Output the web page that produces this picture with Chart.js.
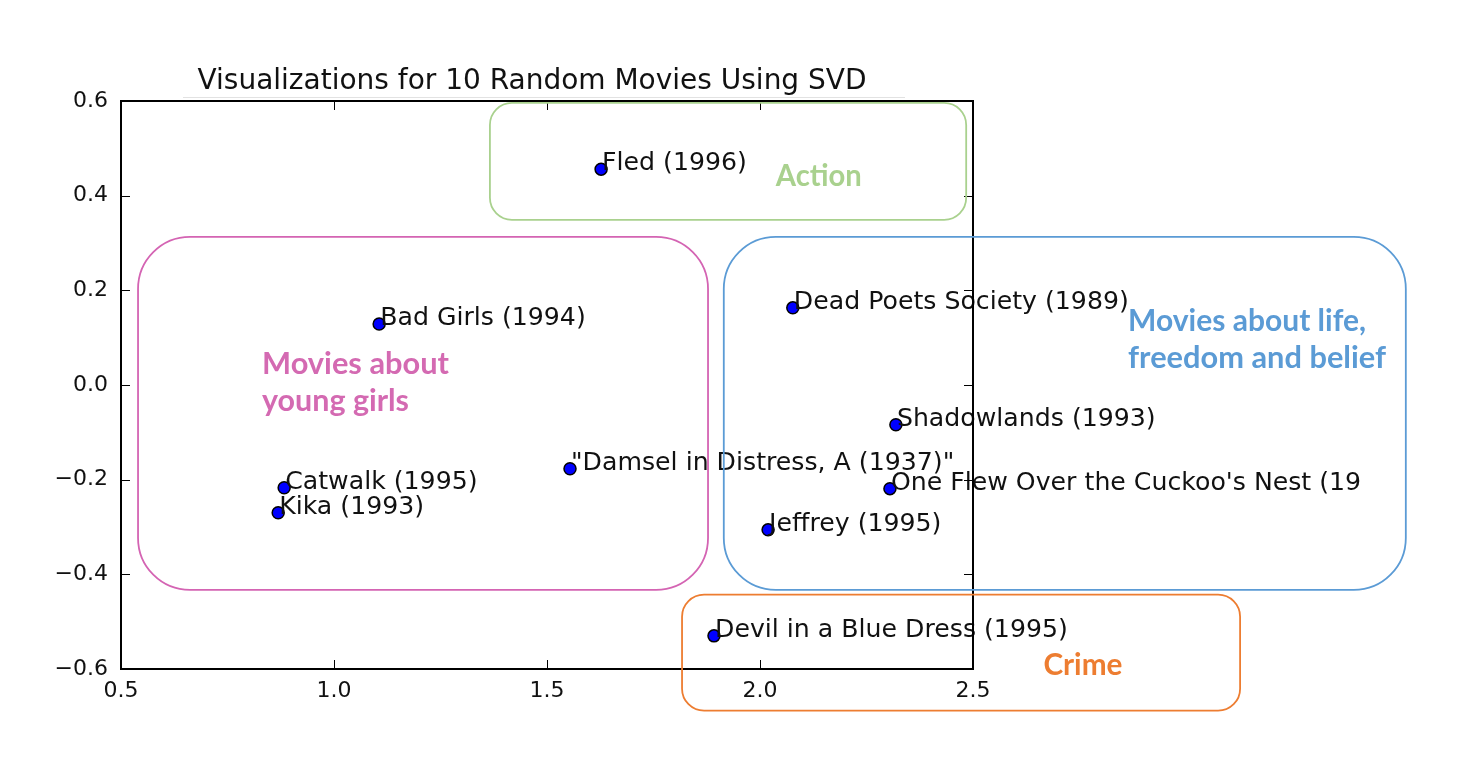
<!DOCTYPE html>
<html>
<head>
<meta charset="utf-8">
<script src="https://cdn.jsdelivr.net/npm/chart.js@4/dist/chart.umd.min.js"></script>
<style>
  html, body { margin: 0; padding: 0; background: #fff; }
  #wrap { width: 1480px; height: 776px; }
</style>
</head>
<body>
<div id="wrap"><canvas id="c" width="1480" height="776"></canvas></div>
<script>
// ---- data ----
const movieTitles = [
  "Fled (1996)",
  "Bad Girls (1994)",
  "Catwalk (1995)",
  "Kika (1993)",
  "\"Damsel in Distress, A (1937)\"",
  "Dead Poets Society (1989)",
  "Shadowlands (1993)",
  "One Flew Over the Cuckoo's Nest (19",
  "Jeffrey (1995)",
  "Devil in a Blue Dress (1995)"
];
const xValues = [1.627, 1.106, 0.883, 0.869, 1.554, 2.077, 2.319, 2.305, 2.019, 1.892];
const yValues = [0.456, 0.129, -0.217, -0.270, -0.177, 0.163, -0.084, -0.219, -0.306, -0.530];
const xTickValues = [0.5, 1.0, 1.5, 2.0, 2.5];
const yTickValues = [-0.6, -0.4, -0.2, 0.0, 0.2, 0.4, 0.6];
const chartTitle = "Visualizations for 10 Random Movies Using SVD";

// group callouts (annotation boxes, in data units)
const groupNames = ["Action", "Movies about young girls", "Movies about life, freedom and belief", "Crime"];
const groupLines = [["Action"], ["Movies about", "young girls"], ["Movies about life,", "freedom and belief"], ["Crime"]];
const groupX0 = [1.366, 0.540, 1.915, 1.817];
const groupX1 = [2.484, 1.878, 3.516, 3.127];
const groupY0 = [0.596, 0.313, 0.313, -0.443];
const groupY1 = [0.349, -0.433, -0.433, -0.688];

// ---- styles ----
const groupColors = ['#a9d18e', '#d464b3', '#5b9bd5', '#ed7d31'];
const groupTextColors = ['#a9d18e', '#d46ab2', '#5b9bd5', '#ed7d31'];
const groupRadius = [22, 52, 52, 22];
// text anchors in data units (left/center x, baseline y) + target widths px
const groupTextX = [2.138, 0.831, 2.864, 2.758];
const groupTextY = [[0.4205], [0.0234, -0.0547], [0.1143, 0.0361], [-0.6122]];
const groupTextAlign = ['center', 'left', 'left', 'center'];
const groupTextWidths = [[86], [187, 147], [238, 258], [79]];

function fitText(ctx, text, x, y, font, width, align, sxFixed) {
  ctx.save();
  ctx.font = font;
  const w = ctx.measureText(text).width;
  const sx = width ? width / w : (sxFixed || 1);
  ctx.translate(x, y);
  ctx.scale(sx, 1);
  ctx.textAlign = align || 'left';
  ctx.textBaseline = 'alphabetic';
  ctx.fillText(text, 0, 0);
  ctx.restore();
}

const overlay = {
  id: 'overlay',
  afterDatasetsDraw(chart) {
    const ctx = chart.ctx;
    const meta = chart.getDatasetMeta(0);
    ctx.save();
    ctx.fillStyle = '#111';
    meta.data.forEach((pt, i) => {
      fitText(ctx, movieTitles[i], pt.x + 1, pt.y + 1, '24px "DejaVu Sans"', null, 'left', 1.05);
    });
    ctx.restore();
  },
  afterDraw(chart) {
    const { ctx, chartArea: a, scales: { x, y } } = chart;
    ctx.save();
    // frame
    ctx.strokeStyle = '#000';
    ctx.lineWidth = 2;
    ctx.strokeRect(a.left, a.top, a.right - a.left, a.bottom - a.top);
    // inward ticks on all sides
    ctx.lineWidth = 1;
    ctx.beginPath();
    xTickValues.forEach(v => {
      const px = Math.round(x.getPixelForValue(v)) + 0.5;
      ctx.moveTo(px, a.bottom); ctx.lineTo(px, a.bottom - 9);
      ctx.moveTo(px, a.top); ctx.lineTo(px, a.top + 9);
    });
    yTickValues.forEach(v => {
      const py = Math.round(y.getPixelForValue(v)) + 0.5;
      ctx.moveTo(a.left, py); ctx.lineTo(a.left + 9, py);
      ctx.moveTo(a.right, py); ctx.lineTo(a.right - 9, py);
    });
    ctx.stroke();
    // title
    ctx.fillStyle = '#111';
    fitText(ctx, chartTitle, 532, 89, '28px "DejaVu Sans"', 669, 'center');
    // faint rule under title
    ctx.strokeStyle = '#e2e2e2';
    ctx.lineWidth = 1;
    ctx.beginPath(); ctx.moveTo(183, 97.5); ctx.lineTo(905, 97.5); ctx.stroke();
    // group boxes
    groupNames.forEach((g, i) => {
      const x0 = x.getPixelForValue(groupX0[i]);
      const x1 = x.getPixelForValue(groupX1[i]);
      const y0 = y.getPixelForValue(groupY0[i]);
      const y1 = y.getPixelForValue(groupY1[i]);
      ctx.strokeStyle = groupColors[i];
      ctx.lineWidth = 1.8;
      ctx.beginPath();
      ctx.roundRect(x0, y0, x1 - x0, y1 - y0, groupRadius[i]);
      ctx.stroke();
      ctx.fillStyle = groupTextColors[i];
      groupLines[i].forEach((line, k) => {
        fitText(ctx, line, x.getPixelForValue(groupTextX[i]), y.getPixelForValue(groupTextY[i][k]),
          'bold 31px Lato', groupTextWidths[i][k], groupTextAlign[i]);
      });
    });
    ctx.restore();
  }
};

const fmt = v => {
  if (Math.abs(v) < 1e-9) v = 0;
  return v.toFixed(1).replace('-', '\u2212');
};

new Chart(document.getElementById('c'), {
  type: 'scatter',
  data: {
    datasets: [{
      data: xValues.map((v, i) => ({ x: v, y: yValues[i] })),
      backgroundColor: '#0000ff',
      borderColor: '#000000',
      borderWidth: 1.5,
      pointRadius: 6,
      pointHoverRadius: 6
    }]
  },
  options: {
    responsive: false,
    animation: false,
    events: [],
    layout: { padding: { left: 0, top: 101, right: 507, bottom: 0 } },
    plugins: { legend: { display: false }, title: { display: false }, tooltip: { enabled: false } },
    scales: {
      x: {
        type: 'linear', min: 0.5, max: 2.5,
        afterFit(s) { s.height = 107; },
        afterBuildTicks(s) { s.ticks = xTickValues.map(v => ({ value: v })); },
        grid: { display: false, drawTicks: false },
        border: { display: false },
        ticks: { color: '#111', padding: 9, maxRotation: 0, font: { family: 'DejaVu Sans', size: 22 }, callback: fmt }
      },
      y: {
        type: 'linear', min: -0.6, max: 0.6,
        afterFit(s) { s.width = 121; },
        afterBuildTicks(s) { s.ticks = yTickValues.map(v => ({ value: v })); },
        grid: { display: false, drawTicks: false },
        border: { display: false },
        ticks: { color: '#111', padding: 13, font: { family: 'DejaVu Sans', size: 22 }, callback: fmt }
      }
    }
  },
  plugins: [overlay]
});
</script>
</body>
</html>
